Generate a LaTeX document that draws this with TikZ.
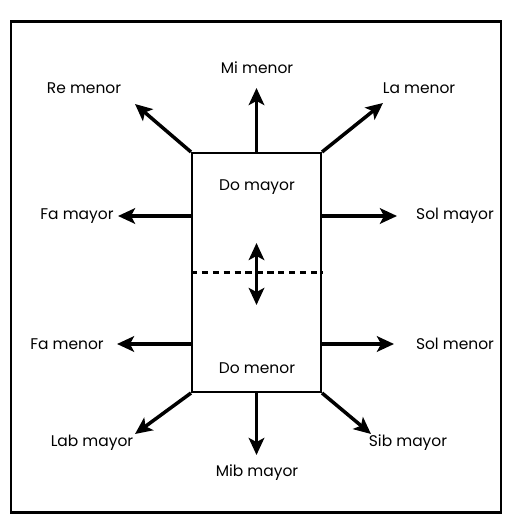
\documentclass[tikz,border=0pt]{standalone}
\usepackage{fontspec}
\setmainfont{Poppins}
\usepackage{tikz}
\usetikzlibrary{arrows.meta}

\begin{document}
\begin{tikzpicture}[x=0.02cm, y=-0.02cm]
	% Styles
	\tikzstyle{key} = [font=\fontsize{8.8}{10}\selectfont, inner sep=1pt]
	\tikzstyle{arrow} = [line width=2pt, -{Stealth[length=3.4mm, width=3.1mm, inset=0.8mm]}]
	\tikzstyle{twoway} = [line width=2pt, {Stealth[length=3.4mm, width=3.1mm, inset=0.8mm]}-{Stealth[length=3.4mm, width=3.1mm, inset=0.8mm]}]

	\useasboundingbox (0,0) rectangle (510,519);
	\draw [line width=1.2pt] (11,21.5) rectangle (501,512.5);

	% Central key box
	\node (box) [draw, line width=1.2pt, minimum width=2.58cm, minimum height=4.78cm, inner sep=0pt] at (256.5,272.5) {};
	\draw [line width=1.2pt, dash pattern=on 3.6pt off 2.6pt] (box.west) -- (box.east);
	\node (domay) [key] at (257,187) {Do mayor};
	\node (domen) [key] at (257,368) {Do menor};
	\coordinate (up) at (256.5,243);
	\coordinate (down) at (256.5,305);

	% Labels with absolute coordinates
	\node (mimen) [key] at (257,68) {Mi menor};
	\node (remen) [key] at (84,88) {Re menor};
	\node (lamen) [key] at (419,88) {La menor};
	\node (famay) [key] at (77,216) {Fa mayor};
	\node (solmay) [key] at (455,216) {Sol mayor};
	\node (famen) [key] at (67,344) {Fa menor};
	\node (solmen) [key] at (455,344) {Sol menor};
	\node (labmay) [key] at (92,443) {Lab mayor};
	\node (mibmay) [key] at (257,473) {Mib mayor};
	\node (sibmay) [key] at (408,443) {Sib mayor};

	% Arrow tips
	\coordinate (tmi) at (256.5,88);
	\coordinate (tre) at (135,104);
	\coordinate (tla) at (383,103);
	\coordinate (tfamay) at (118,216);
	\coordinate (tsolmay) at (397,216);
	\coordinate (tfamen) at (117,344);
	\coordinate (tsolmen) at (394,344);
	\coordinate (tlab) at (135,434);
	\coordinate (tmib) at (256.5,455);
	\coordinate (tsib) at (371,434);

	% Connections
	\draw [arrow] (box.north) -- (tmi);
	\draw [arrow] (box.north west) -- (tre);
	\draw [arrow] (box.north east) -- (tla);
	\draw [arrow] (box.west |- tfamay) -- (tfamay);
	\draw [arrow] (box.east |- tsolmay) -- (tsolmay);
	\draw [arrow] (box.west |- tfamen) -- (tfamen);
	\draw [arrow] (box.east |- tsolmen) -- (tsolmen);
	\draw [arrow] (box.south west) -- (tlab);
	\draw [arrow] (box.south) -- (tmib);
	\draw [arrow] (box.south east) -- (tsib);
	\draw [twoway] (up) -- (down);

\end{tikzpicture}
\end{document}
